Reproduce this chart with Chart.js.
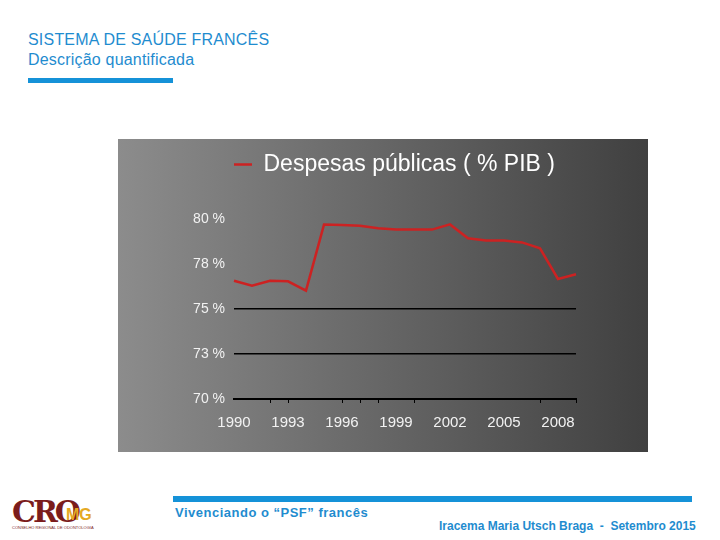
<!DOCTYPE html>
<html>
<head>
<meta charset="utf-8">
<script src="https://cdn.jsdelivr.net/npm/chart.js@4"></script>
<style>
  body { margin: 0; width: 720px; height: 540px; background: #fff; position: relative; overflow: hidden; font-family: "Liberation Sans", Arial, sans-serif; }
  .title { position: absolute; left: 28px; top: 30px; color: #1f8ccf; font-size: 16px; line-height: 20px; letter-spacing: 0.2px; }
  .bar-top { position: absolute; left: 28px; top: 78px; width: 145px; height: 5px; background: #1592d8; }
  .panel { position: absolute; left: 118px; top: 139px; width: 530px; height: 313px; background: linear-gradient(to right, #8c8c8c, #404040); }
  #wrap { position: absolute; left: 118px; top: 153px; width: 530px; height: 299px; }
  .bar-foot { position: absolute; left: 173px; top: 496px; width: 519px; height: 6px; background: #1592d8; }
  .foot1 { position: absolute; left: 175px; top: 505px; color: #1f8ccf; font-size: 13px; font-weight: bold; letter-spacing: 0.5px; }
  .foot2 { position: absolute; left: 439px; top: 519px; color: #1f8ccf; font-size: 12px; font-weight: bold; }
  .logo { position: absolute; left: 10px; top: 494px; width: 80px; height: 40px; }
  .logo .cro { position: absolute; left: 2px; top: 0; font-family: "DejaVu Serif", serif; font-weight: bold; font-size: 30px; color: #7b1c1c; letter-spacing: -3px; }
  .logo .mg { position: absolute; left: 56px; top: 12px; font-weight: bold; font-size: 16px; color: #e5a923; }
  .logo .sub { position: absolute; left: 2px; top: 31px; font-size: 4px; color: #7b1c1c; white-space: nowrap; }
</style>
</head>
<body>
<div class="title">SISTEMA DE SAÚDE FRANCÊS<br>Descrição quantificada</div>
<div class="bar-top"></div>
<div class="panel"></div>
<div id="wrap"><canvas id="chart"></canvas></div>
<div class="logo"><span class="cro">CRO</span><span class="mg">MG</span><span class="sub">CONSELHO REGIONAL DE ODONTOLOGIA</span></div>
<div class="bar-foot"></div>
<div class="foot1">Vivenciando o “PSF” francês</div>
<div class="foot2">Iracema Maria Utsch Braga&nbsp; - &nbsp;Setembro 2015</div>
<script>
const years = ['1990', '1991', '1992', '1993', '1994', '1995', '1996', '1997', '1998', '1999',
  '2000', '2001', '2002', '2003', '2004', '2005', '2006', '2007', '2008', '2009'];
const despesas = [76.57, 76.29, 76.57, 76.54, 76.02, 79.69, 79.67, 79.63, 79.48, 79.41,
  79.41, 79.41, 79.70, 78.93, 78.80, 78.80, 78.70, 78.37, 76.67, 76.93];
const seriesLabel = 'Despesas públicas ( % PIB )';
const yMin = 70;
const yMax = 80;
const yStep = 2.5;
const tickMarkIdx = [2, 3, 6, 7, 8, 10, 17, 19];

const font = '"Liberation Sans", Arial, sans-serif';

const ctx = document.getElementById('chart').getContext('2d');
new Chart(ctx, {
  type: 'line',
  data: {
    labels: years,
    datasets: [{
      label: seriesLabel,
      data: despesas,
      borderColor: '#cc2222',
      backgroundColor: '#cc2222',
      borderWidth: 2.5,
      pointRadius: 0,
      tension: 0
    }]
  },
  options: {
    responsive: true,
    maintainAspectRatio: false,
    animation: false,
    layout: { padding: { left: 56, right: 72, top: 0, bottom: 23 } },
    plugins: {
      tooltip: { enabled: false },
      legend: {
        position: 'top',
        fullSize: false,
        align: 'start',
        labels: {
          usePointStyle: true,
          pointStyle: 'line',
          pointStyleWidth: 18,
          padding: 0,
          color: '#ffffff',
          font: { family: font, size: 23 }
        }
      },
      // empty spacer between legend and plot
      subtitle: {
        display: true,
        text: '',
        weight: 500,
        font: { size: 10 },
        padding: { top: 21, bottom: 0 }
      }
    },
    scales: {
      x: {
        afterFit: s => { s.height = 30; },
        border: { display: true, color: '#000', width: 2 },
        grid: {
          drawOnChartArea: false,
          drawTicks: true,
          tickLength: 4,
          color: c => tickMarkIdx.includes(c.index) ? '#000' : 'rgba(0,0,0,0)'
        },
        ticks: {
          autoSkip: false,
          maxRotation: 0,
          padding: 11,
          color: '#f2f2f2',
          font: { family: font, size: 15 },
          callback: (v, i) => i % 3 === 0 ? years[i] : ''
        }
      },
      y: {
        min: yMin,
        max: yMax,
        afterFit: s => { s.width = 60; },
        border: { display: false },
        grid: {
          drawTicks: false,
          lineWidth: 1.5,
          color: c => (c.tick && c.tick.value <= 75 && c.tick.value > yMin) ? '#000' : 'rgba(0,0,0,0)'
        },
        ticks: {
          stepSize: yStep,
          padding: 9,
          color: '#f2f2f2',
          font: { family: font, size: 14 },
          callback: v => Math.round(v) + ' %'
        }
      }
    }
  }
});
</script>
</body>
</html>
